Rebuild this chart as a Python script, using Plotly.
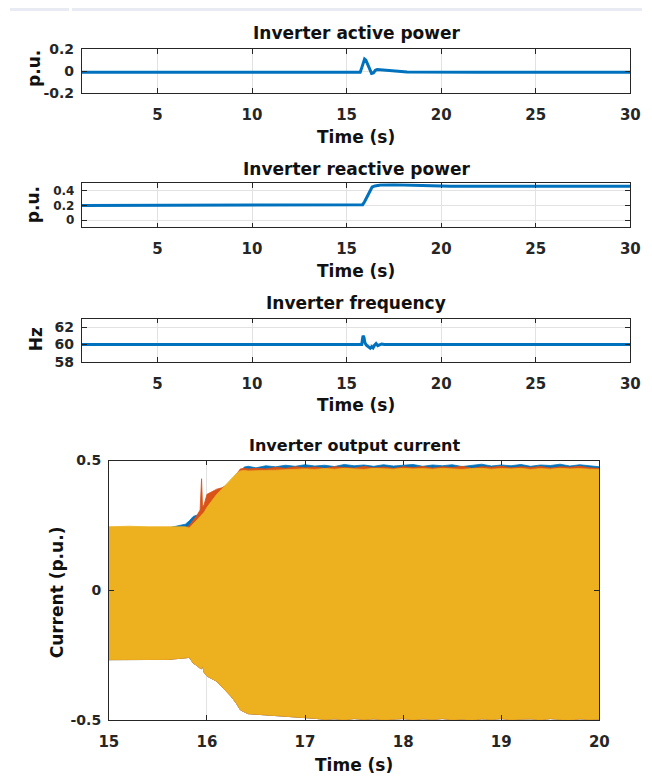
import plotly.graph_objects as go

W, H = 652, 784

# ---------------- data ----------------
# Panel 1: inverter active power (p.u.)
t_p = [1.0, 15.0, 15.72, 15.8, 15.88, 15.95, 16.02, 16.1, 16.18, 16.25, 16.32, 16.42,
       16.52, 16.62, 16.8, 17.0, 17.4, 17.8, 18.2, 22.0, 26.0, 30.0]
p_act = [-0.01, -0.01, -0.01, 0.03, 0.08, 0.11, 0.10, 0.07, 0.04, 0.0, -0.02, -0.015,
         0.008, 0.015, 0.012, 0.008, 0.002, -0.004, -0.008, -0.01, -0.01, -0.01]

# Panel 2: inverter reactive power (p.u.)
t_q = [1.0, 15.0, 15.75, 15.85, 15.95, 16.1, 16.25, 16.35, 16.5, 16.8, 17.5, 18.5,
       19.5, 20.5, 25.0, 30.0]
q_react = [0.2, 0.2, 0.2, 0.21, 0.25, 0.32, 0.40, 0.45, 0.465, 0.478, 0.48, 0.475,
           0.468, 0.462, 0.46, 0.46]

# Panel 3: inverter frequency (Hz)
t_f = [1.0, 15.0, 15.8, 15.84, 15.87, 15.92, 15.97, 16.05, 16.15, 16.25, 16.33, 16.4,
       16.48, 16.56, 16.65, 16.75, 16.85, 17.0, 20.0, 25.0, 30.0]
f_hz = [60, 60, 60, 60.6, 61.0, 60.8, 60.2, 59.9, 59.7, 59.55, 59.75, 59.6,
        59.9, 60.1, 59.85, 60.0, 60.05, 60, 60, 60, 60]

# Panel 4: inverter output current, envelope of the three phase currents (p.u.)
t_i = [15.0, 15.2, 15.4, 15.6, 15.78, 15.82, 15.86, 15.9, 15.93, 15.945, 15.955, 15.97,
       16.0, 16.05, 16.1, 16.15, 16.2, 16.25, 16.3, 16.34, 16.38, 16.42, 16.5, 16.6,
       16.7, 16.8, 16.9, 17.0, 17.1, 17.2, 17.3, 17.4, 17.5, 17.6, 17.7, 17.8, 17.9,
       18.0, 18.1, 18.2, 18.3, 18.4, 18.5, 18.6, 18.7, 18.8, 18.9, 19.0, 19.1, 19.2,
       19.3, 19.4, 19.5, 19.6, 19.7, 19.8, 19.9, 20.0]
ia_up = [0.24, 0.24, 0.24, 0.24, 0.255, 0.268, 0.285, 0.29, 0.30, 0.31, 0.315, 0.32,
         0.34, 0.36, 0.375, 0.385, 0.395, 0.41, 0.435, 0.455, 0.475, 0.478, 0.472, 0.48,
         0.476, 0.482, 0.478, 0.484, 0.479, 0.482, 0.477, 0.485, 0.48, 0.483, 0.478, 0.484,
         0.479, 0.482, 0.485, 0.478, 0.483, 0.48, 0.484, 0.477, 0.482, 0.486, 0.479, 0.483,
         0.48, 0.485, 0.478, 0.483, 0.481, 0.486, 0.479, 0.484, 0.48, 0.476]
ib_up = [0.24, 0.24, 0.24, 0.24, 0.24, 0.25, 0.27, 0.29, 0.31, 0.43, 0.32, 0.33,
         0.37, 0.38, 0.39, 0.395, 0.405, 0.42, 0.445, 0.468, 0.47, 0.468, 0.47, 0.468,
         0.474, 0.47, 0.476, 0.472, 0.475, 0.47, 0.476, 0.473, 0.471, 0.477, 0.472, 0.475,
         0.47, 0.476, 0.473, 0.477, 0.471, 0.476, 0.473, 0.478, 0.47, 0.476, 0.474, 0.478,
         0.472, 0.476, 0.473, 0.477, 0.471, 0.476, 0.474, 0.478, 0.472, 0.47]
ic_up = [0.245, 0.247, 0.245, 0.246, 0.245, 0.24, 0.255, 0.27, 0.285, 0.29, 0.295, 0.30,
         0.32, 0.345, 0.37, 0.39, 0.41, 0.43, 0.45, 0.46, 0.462, 0.46, 0.46, 0.462,
         0.463, 0.465, 0.467, 0.468, 0.466, 0.469, 0.467, 0.47, 0.468, 0.466, 0.47, 0.468,
         0.467, 0.47, 0.468, 0.469, 0.467, 0.47, 0.468, 0.466, 0.469, 0.47, 0.467, 0.469,
         0.468, 0.47, 0.466, 0.469, 0.467, 0.47, 0.468, 0.469, 0.467, 0.466]
i_low = [-0.267, -0.266, -0.267, -0.266, -0.26, -0.258, -0.28, -0.29, -0.30, -0.302, -0.288, -0.315,
         -0.33, -0.34, -0.35, -0.37, -0.39, -0.41, -0.435, -0.46, -0.468, -0.475, -0.478, -0.48,
         -0.484, -0.486, -0.488, -0.49, -0.493, -0.497, -0.495, -0.498, -0.494, -0.497, -0.495, -0.498,
         -0.496, -0.494, -0.498, -0.495, -0.497, -0.494, -0.498, -0.496, -0.499, -0.495, -0.497, -0.494,
         -0.498, -0.496, -0.495, -0.498, -0.494, -0.497, -0.499, -0.495, -0.497, -0.496]

x_ticks_top = [5, 10, 15, 20, 25, 30]
x_ticks_cur = [15, 16, 17, 18, 19, 20]

BLUE, ORANGE, YELLOW = "#0072BD", "#D95319", "#EDB120"
FONT = "DejaVu Sans"
TXT = "#262626"

fig = go.Figure()

def px_dom_x(a, b):
    return [a / W, b / W]

def px_dom_y(top, bottom):
    return [1 - bottom / H, 1 - top / H]

fig.add_trace(go.Scatter(x=t_p, y=p_act, mode="lines", line=dict(color=BLUE, width=3),
                         xaxis="x", yaxis="y", showlegend=False))
fig.add_trace(go.Scatter(x=t_q, y=q_react, mode="lines", line=dict(color=BLUE, width=3),
                         xaxis="x2", yaxis="y2", showlegend=False))
fig.add_trace(go.Scatter(x=t_f, y=f_hz, mode="lines", line=dict(color=BLUE, width=3),
                         xaxis="x3", yaxis="y3", showlegend=False))

for up, col in [(ia_up, BLUE), (ib_up, ORANGE), (ic_up, YELLOW)]:
    fig.add_trace(go.Scatter(x=t_i + t_i[::-1], y=up + i_low[::-1], mode="lines",
                             fill="toself", fillcolor=col, line=dict(color=col, width=0.8),
                             xaxis="x4", yaxis="y4", showlegend=False))

def axis_common(size, standoff):
    return dict(showline=True, linecolor=TXT, linewidth=0.8, mirror="ticks",
                ticks="inside", ticklen=5, tickcolor=TXT, showgrid=True,
                gridcolor="#e2e2e2", gridwidth=1, zeroline=False,
                ticklabelstandoff=standoff,
                tickfont=dict(family=FONT, size=size, color=TXT, weight="bold"))

dx13 = px_dom_x(74, 640)
dx4 = px_dom_x(102, 608)
# suffix, y-domain, x-domain, x-range, x-ticks, y-range, y-ticks, y-tick text, x font, y font
panels = [
    ("", px_dom_y(42, 87), dx13, [1, 30], x_ticks_top, [-0.2, 0.2], [-0.2, 0, 0.2], ["-0.2", "0", "0.2"], 15, 14),
    ("2", px_dom_y(179, 224), dx13, [1, 30], x_ticks_top, [-0.1, 0.5], [0, 0.2, 0.4], ["0", "0.2", "0.4"], 15, 12),
    ("3", px_dom_y(317, 361), dx13, [1, 30], x_ticks_top, [58, 63], [58, 60, 62], ["58", "60", "62"], 15, 14),
    ("4", px_dom_y(462, 727), dx4, [15, 20], x_ticks_cur, [-0.5, 0.5], [-0.5, 0, 0.5], ["-0.5", "0", "0.5"], 15, 14),
]
for suf, dy, dx, xr, xt, yr, yt, ytt, fx, fy in panels:
    fig.layout["xaxis" + suf] = dict(axis_common(fx, 8), domain=dx, range=xr, tickvals=xt,
                                     anchor="y" + suf)
    fig.layout["yaxis" + suf] = dict(axis_common(fy, 4), domain=dy, range=yr, tickvals=yt,
                                     ticktext=ytt, anchor="x" + suf)

anns = []
def ann(text, xpx, ypx, size, angle=0):
    anns.append(dict(text="<b>" + text + "</b>", x=xpx / W, y=1 - ypx / H, xref="paper",
                     yref="paper", showarrow=False, textangle=angle,
                     xanchor="center", yanchor="middle",
                     font=dict(family=FONT, size=size, color="#111111")))

ann("Inverter active power", 357, 26, 17)
ann("Inverter reactive power", 357, 164, 17)
ann("Inverter frequency", 357, 301, 17)
ann("Inverter output current", 355, 447, 16)
ann("Time (s)", 357, 132, 17)
ann("Time (s)", 357, 268, 17)
ann("Time (s)", 357, 405, 17)
ann("Time (s)", 355, 773, 17)
ann("p.u.", 24, 62, 17, -90)
ann("p.u.", 24, 201, 17, -90)
ann("Hz", 27, 338, 17, -90)
ann("Current (p.u.)", 48, 597, 17, -90)

shapes = [
    dict(type="rect", xref="paper", yref="paper", x0=0, x1=61 / W, y0=1 - 3 / H, y1=1,
         fillcolor="#e8eaf4", line=dict(width=0), layer="above"),
    dict(type="rect", xref="paper", yref="paper", x0=64 / W, x1=1, y0=1 - 3 / H, y1=1,
         fillcolor="#e8eaf4", line=dict(width=0), layer="above"),
]

fig.update_layout(width=W, height=H, margin=dict(l=0, r=0, t=0, b=0),
                  paper_bgcolor="white", plot_bgcolor="white",
                  annotations=anns, shapes=shapes, showlegend=False)

fig.write_html("out.html")
